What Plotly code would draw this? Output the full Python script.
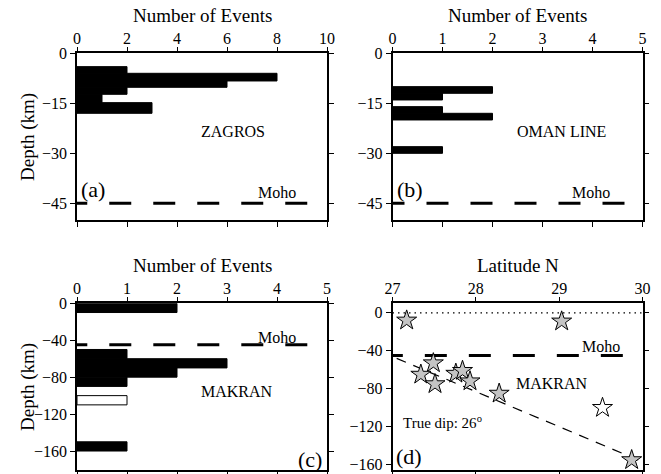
import plotly.graph_objects as go

# histogram bins (depth km, positive down) and counts
zagros_top = [4, 6, 8.3, 10.2, 12.3, 14.8]
zagros_bot = [6, 8.3, 10.2, 12.3, 14.8, 18]
zagros_n = [2, 8, 6, 2, 1, 3]

oman_top = [10, 12, 16, 18, 28]
oman_bot = [12, 14, 18, 20, 30]
oman_n = [2, 1, 1, 2, 1]

makran_top = [0, 50, 60, 70, 80, 150]
makran_bot = [10, 60, 70, 80, 90, 160]
makran_n = [2, 1, 3, 2, 1, 1]

makran_open_top = [100]
makran_open_bot = [110]
makran_open_n = [1]

# panel (d) events
lat_n = [27.17, 29.03, 27.49, 27.34, 27.51, 27.76, 27.84, 27.93, 28.28, 29.87]
depth_n = [-8, -9, -53, -65, -75, -64, -61, -72, -85, -155]
lat_open = [29.52]
depth_open = [-100]

dip_lat = [27.05, 29.95]
dip_depth = [-48, -155]

moho = -45
FONT = "Liberation Serif"


def hbars(top, bot, n, fill, xa, ya):
    centers = [-(t + b) / 2 for t, b in zip(top, bot)]
    widths = [b - t for t, b in zip(top, bot)]
    return go.Bar(x=n, y=centers, width=widths, base=0, orientation="h",
                  marker=dict(color=fill, line=dict(color="black", width=1)),
                  xaxis=xa, yaxis=ya, showlegend=False)


def moho_line(x0, x1, xa, ya):
    return go.Scatter(x=[x0, x1], y=[moho, moho], mode="lines",
                      line=dict(color="black", width=3, dash="22px,22px"),
                      xaxis=xa, yaxis=ya, showlegend=False)


fig = go.Figure()
fig.add_trace(hbars(zagros_top, zagros_bot, zagros_n, "black", "x", "y"))
fig.add_trace(moho_line(-0.47, 9.29, "x", "y"))

fig.add_trace(hbars(oman_top, oman_bot, oman_n, "black", "x2", "y2"))
fig.add_trace(moho_line(-0.2, 4.65, "x2", "y2"))

fig.add_trace(hbars(makran_top, makran_bot, makran_n, "black", "x3", "y3"))
fig.add_trace(hbars(makran_open_top, makran_open_bot, makran_open_n, "white", "x3", "y3"))
fig.add_trace(moho_line(-0.234, 4.65, "x3", "y3"))

# panel (d)
fig.add_trace(go.Scatter(x=[27, 30], y=[0, 0], mode="lines",
                         line=dict(color="black", width=1.2, dash="1.5px,4px"),
                         xaxis="x4", yaxis="y4", showlegend=False))
fig.add_trace(moho_line(26.86, 29.8, "x4", "y4"))
fig.add_trace(go.Scatter(x=dip_lat, y=dip_depth, mode="lines",
                         line=dict(color="black", width=1.2, dash="10px,8px"),
                         xaxis="x4", yaxis="y4", showlegend=False))
fig.add_trace(go.Scatter(x=lat_n, y=depth_n, mode="markers",
                         marker=dict(symbol="star", size=15, color="#c4c4c4",
                                     line=dict(color="black", width=1)),
                         xaxis="x4", yaxis="y4", showlegend=False, cliponaxis=False))
fig.add_trace(go.Scatter(x=lat_open, y=depth_open, mode="markers",
                         marker=dict(symbol="star", size=15, color="white",
                                     line=dict(color="black", width=1)),
                         xaxis="x4", yaxis="y4", showlegend=False))

# page has an ~8px body margin, so shift everything up/left by that much
W, H = 661, 474
OFF = 8


def px_x(p):
    return (p - OFF) / W


def px_y(p):
    return 1 - (p - OFF) / H


xl = [px_x(77), px_x(327)]
xr = [px_x(392.5), px_x(642.5)]
yt = [px_y(220), px_y(53.3)]
yb = [px_y(469.5), px_y(303.3)]

axis_common = dict(showline=True, linecolor="black", linewidth=1.5, mirror="ticks",
                   ticks="outside", ticklen=5, tickwidth=1, tickcolor="black",
                   showgrid=False, zeroline=False, automargin=False,
                   tickfont=dict(family=FONT, size=16, color="black"))


def xax(dom, rng, dtick, anchor):
    return dict(axis_common, domain=dom, range=rng, dtick=dtick, side="top", anchor=anchor,
                ticklabelstandoff=-4)


def yax(dom, rng, tickvals, anchor):
    return dict(axis_common, domain=dom, range=rng, tickvals=tickvals, anchor=anchor)


fig.update_layout(
    width=W, height=H, margin=dict(l=0, r=0, t=0, b=0),
    plot_bgcolor="white", paper_bgcolor="white",
    xaxis=xax(xl, [0, 10], 2, "y"),
    yaxis=yax(yt, [-50, 0], [0, -15, -30, -45], "x"),
    xaxis2=xax(xr, [0, 5], 1, "y2"),
    yaxis2=yax(yt, [-50, 0], [0, -15, -30, -45], "x2"),
    xaxis3=xax(xl, [0, 5], 1, "y3"),
    yaxis3=yax(yb, [-180, 0], [0, -40, -80, -120, -160], "x3"),
    xaxis4=xax(xr, [27, 30], 1, "y4"),
    yaxis4=yax(yb, [-165, 10], [0, -40, -80, -120, -160], "x4"),
)

# axis titles, placed in page pixels
for text, cx, cy, angle in [("Number of Events", 202, 15, 0),
                            ("Number of Events", 517, 15, 0),
                            ("Number of Events", 202, 265, 0),
                            ("Latitude N", 517.5, 265.5, 0),
                            ("Depth (km)", 28, 137, -90),
                            ("Depth (km)", 28, 387, -90)]:
    fig.add_annotation(x=px_x(cx), y=px_y(cy), xref="paper", yref="paper", text=text,
                       showarrow=False, textangle=angle, xanchor="center", yanchor="middle",
                       font=dict(family=FONT, size=19, color="black"))


def note(x, y, text, xa, ya, size=16, xanchor="center"):
    fig.add_annotation(x=x, y=y, xref=xa, yref=ya, text=text, showarrow=False,
                       xanchor=xanchor, font=dict(family=FONT, size=size, color="black"))


note(6.24, -23.6, "ZAGROS", "x", "y", 16)
note(0.64, -41, "(a)", "x", "y", 22)
note(8.0, -41.9, "Moho", "x", "y")

note(3.37, -23.6, "OMAN LINE", "x2", "y2", 16)
note(0.35, -41, "(b)", "x2", "y2", 22)
note(3.97, -41.9, "Moho", "x2", "y2")

note(4.0, -36.8, "Moho", "x3", "y3")
note(3.2, -95.6, "MAKRAN", "x3", "y3", 16)
note(4.66, -168.7, "(c)", "x3", "y3", 22)

note(29.5, -35.7, "Moho", "x4", "y4")
note(28.91, -74.8, "MAKRAN", "x4", "y4", 16)
note(27.1, -115.4, "True dip: 26<sup>o</sup>", "x4", "y4", 15, "left")
note(27.2, -151, "(d)", "x4", "y4", 22)

fig.write_html("out.html")
